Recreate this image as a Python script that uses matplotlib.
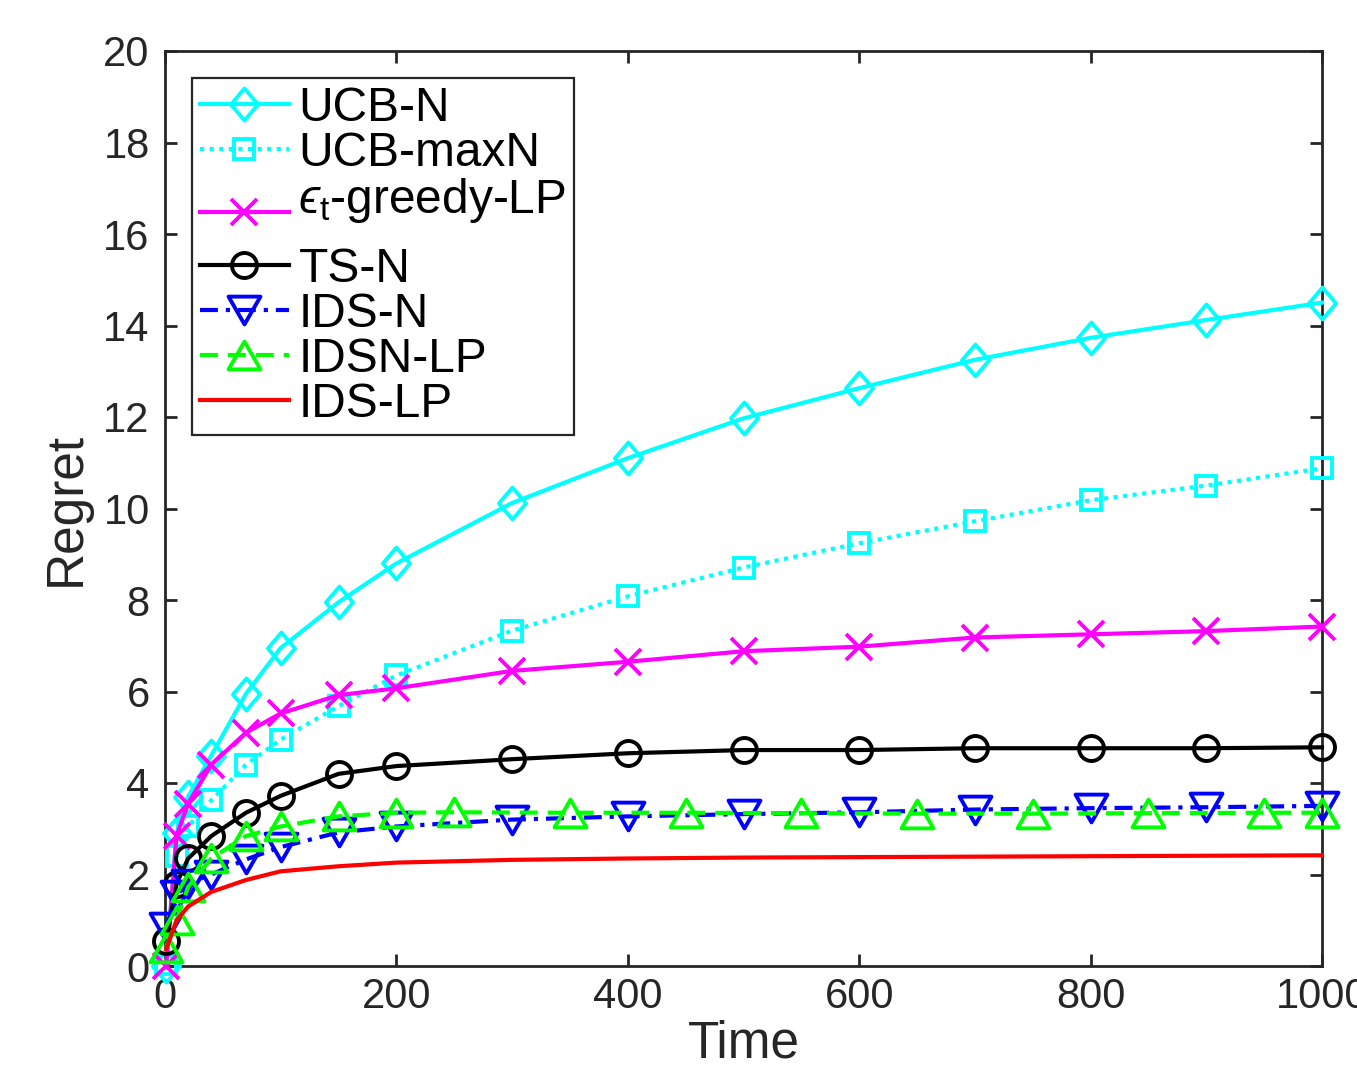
import numpy as np
import matplotlib
matplotlib.use("Agg")
import matplotlib.pyplot as plt
from matplotlib.path import Path

plt.rcParams['font.family'] = ['Liberation Sans', 'DejaVu Sans']
plt.rcParams['mathtext.fontset'] = 'custom'
plt.rcParams['mathtext.rm'] = 'Liberation Sans'
plt.rcParams['mathtext.it'] = 'Liberation Sans:italic'
plt.rcParams['mathtext.fallback'] = 'stixsans'

# ---- data ----
x_main = [1, 10, 20, 40, 70, 100, 150, 200, 300, 400, 500, 600, 700, 800, 900, 1000]
ucb_n = [0.0, 2.9, 3.7, 4.6, 5.95, 6.95, 7.95, 8.8, 10.12, 11.1, 11.97, 12.63, 13.25, 13.73, 14.12, 14.5]
ucb_maxn = [0.05, 2.4, 3.05, 3.62, 4.4, 4.95, 5.68, 6.35, 7.33, 8.08, 8.71, 9.24, 9.72, 10.18, 10.5, 10.88]
eps_greedy = [0.0, 2.85, 3.55, 4.4, 5.1, 5.52, 5.92, 6.07, 6.45, 6.65, 6.88, 6.98, 7.18, 7.25, 7.32, 7.42]
ts_n = [0.55, 1.8, 2.35, 2.84, 3.35, 3.72, 4.2, 4.37, 4.52, 4.65, 4.72, 4.72, 4.76, 4.76, 4.76, 4.78]
ids_n = [0.85, 1.55, 1.8, 2.0, 2.33, 2.6, 2.92, 3.05, 3.2, 3.27, 3.32, 3.36, 3.42, 3.45, 3.47, 3.5]
x_idsn = [1, 10, 20, 40, 70, 100, 150, 200, 250, 350, 450, 550, 650, 750, 850, 950, 1000]
idsn_lp = [0.4, 1.0, 1.73, 2.35, 2.84, 3.05, 3.27, 3.35, 3.36, 3.35, 3.35, 3.34, 3.33, 3.33, 3.34, 3.35, 3.35]
ids_lp = [0.37, 1.0, 1.3, 1.62, 1.88, 2.07, 2.18, 2.26, 2.32, 2.35, 2.37, 2.38, 2.39, 2.40, 2.41, 2.42]

labels = ['UCB-N', 'UCB-maxN', '$ϵ_{\\mathrm{t}}$-greedy-LP\n', 'TS-N', 'IDS-N', 'IDSN-LP', 'IDS-LP']
xticks = [0, 200, 400, 600, 800, 1000]
yticks = list(range(0, 21, 2))

# ---- markers ----
diamond = Path([(0, 1), (0.85, 0), (0, -1), (-0.85, 0), (0, 1)],
               [Path.MOVETO, Path.LINETO, Path.LINETO, Path.LINETO, Path.CLOSEPOLY])
tri_up = Path([(0, 1), (1.15, -1), (-1.15, -1), (0, 1)],
              [Path.MOVETO, Path.LINETO, Path.LINETO, Path.CLOSEPOLY])
tri_down = Path([(0, -1), (1.15, 1), (-1.15, 1), (0, -1)],
                [Path.MOVETO, Path.LINETO, Path.LINETO, Path.CLOSEPOLY])

fig = plt.figure(figsize=(13.57, 10.65), dpi=100)
ax = fig.add_axes([165 / 1357, 99 / 1065, 1157 / 1357, 915 / 1065])

lw = 3.0
mew = 2.8
common = dict(lw=lw, mew=mew, mfc='none', clip_on=False, zorder=3)

ax.plot(x_main, ucb_n, color='#00FFFF', ls='-', marker=diamond, ms=23, label=labels[0], **common)
ax.plot(x_main, ucb_maxn, color='#00FFFF', ls=(0, (1, 1.3)), marker='s', ms=15, label=labels[1], **common)
ax.plot(x_main, eps_greedy, color='#FF00FF', ls='-', marker='x', ms=19, label=labels[2], **common)
ax.plot(x_main, ts_n, color='black', ls='-', marker='o', ms=18, label=labels[3], **common)
ax.plot(x_main, ids_n, color='#0000FF', ls=(0, (4.3, 1.9, 1, 1.9)), marker=tri_down, ms=23, label=labels[4], **common)
ax.plot(x_idsn, idsn_lp, color='#00FF00', ls=(0, (4.3, 2.4)), marker=tri_up, ms=23, label=labels[5], **common)
ax.plot(x_main, ids_lp, color='#FF0000', ls='-', label=labels[6], lw=lw, clip_on=False, zorder=3)

ax.set_xlim(0, 1000)
ax.set_ylim(0, 20)
ax.set_xticks(xticks)
ax.set_yticks(yticks)

axc = '#262626'
for s in ax.spines.values():
    s.set_linewidth(2.0)
    s.set_color(axc)
ax.tick_params(axis='both', which='major', direction='in', length=8.5, width=2.0,
               color=axc, labelcolor=axc, labelsize=30, top=True, right=True)
ax.tick_params(axis='x', pad=8)
ax.tick_params(axis='y', pad=11)

ax.set_xlabel('Time', fontsize=37, color=axc, labelpad=2)
ax.set_ylabel('Regret', fontsize=37, color=axc, labelpad=9)

leg = ax.legend(loc='upper left', bbox_to_anchor=(27 / 1157, (966 - 78) / 915),
                borderaxespad=0, fontsize=34.5, numpoints=1, handlelength=1.86,
                handletextpad=0.2, labelspacing=0.0, borderpad=0.16,
                fancybox=False, framealpha=1, edgecolor=axc)
leg.get_frame().set_linewidth(1.6)
for t in leg.get_texts():
    t.set_color('black')
leg.get_texts()[2].set_linespacing(0.36)

fig.savefig('out.png', dpi=100)
